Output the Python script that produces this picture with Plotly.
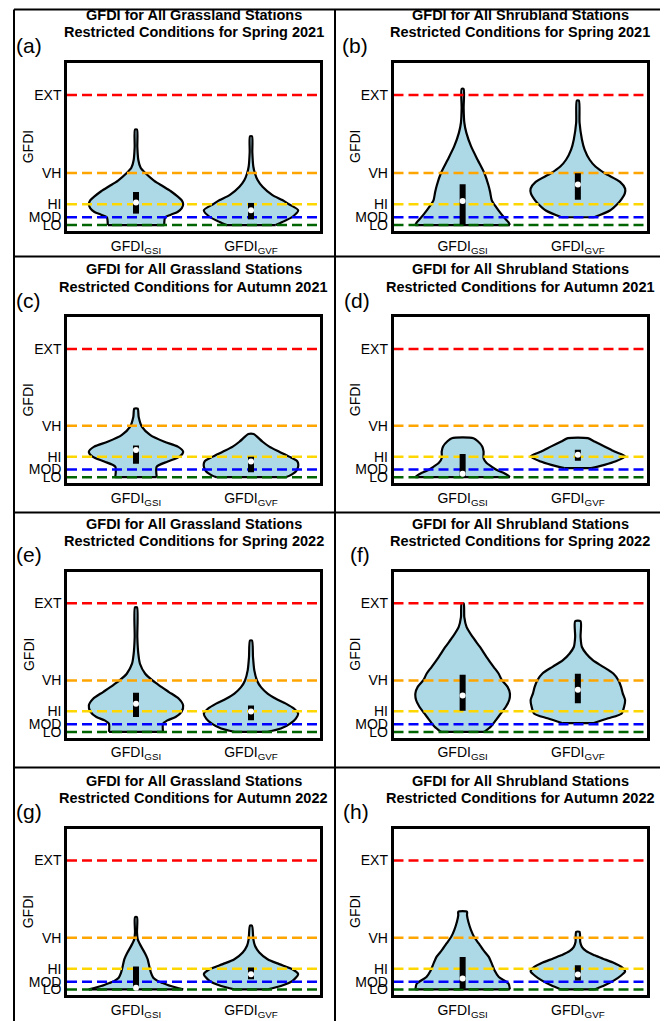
import plotly.graph_objects as go

# The page body has an 8px margin, so the figure is offset by 8px.
OFF = 8
W, H = 660, 1013

# ---------------- data ----------------
categories = ["GFDI<sub>GSI</sub>", "GFDI<sub>GVF</sub>"]
level_names = ["LO", "MOD", "HI", "VH", "EXT"]
level_values = [0, 3, 8, 20, 50]
level_colors = ["#006400", "#0000FF", "#FFD700", "#FFA500", "#FF0000"]

titles_line1 = ["GFDI for All Grassland Stations", "GFDI for All Shrubland Stations"] * 4
titles_line2 = ["Restricted Conditions for Spring 2021", "Restricted Conditions for Spring 2021",
                "Restricted Conditions for Autumn 2021", "Restricted Conditions for Autumn 2021",
                "Restricted Conditions for Spring 2022", "Restricted Conditions for Spring 2022",
                "Restricted Conditions for Autumn 2022", "Restricted Conditions for Autumn 2022"]
panel_labels = ["(a)", "(b)", "(c)", "(d)", "(e)", "(f)", "(g)", "(h)"]

# violin density profiles: GFDI level -> relative density (half-width)
a_gsi_y = [0, 3, 4, 5, 6.5, 8, 9.5, 11, 13, 15, 17, 20, 22, 25, 30, 36.7]
a_gsi_d = [85, 88, 105, 125, 138, 142, 138, 125, 105, 80, 55, 28, 14, 7, 4, 3]
a_gvf_y = [0, 1.2, 3.1, 5.7, 8, 9.6, 11.5, 14.7, 17.3, 19.8, 22.5, 28, 34.1]
a_gvf_d = [75, 95, 125, 143, 115, 95, 65, 35, 20, 12, 7, 4, 3]
b_gsi_y = [0, 1, 2.3, 4.3, 6.9, 9.5, 12.7, 15.3, 19.9, 25, 30.3, 35.5, 39.4, 45, 52.3]
b_gsi_d = [141, 137, 128, 115, 100, 87, 82, 77, 65, 45, 25, 11, 5, 3, 3]
b_gvf_y = [3.0, 5.6, 8.2, 10.1, 12.1, 14.0, 16.6, 19.9, 22.5, 25.1, 29.0, 32.9, 39.4, 47.8]
b_gvf_d = [48, 95, 118, 130, 139, 140, 125, 80, 52, 35, 20, 12, 5, 3]
c_gsi_y = [0, 4.1, 6.1, 8.0, 9.9, 11.9, 13.8, 16.4, 19.6, 23.5, 26.7]
c_gsi_d = [62, 62, 95, 130, 141, 125, 85, 43, 18, 8, 5]
c_gvf_y = [0, 0.5, 2.2, 4.1, 6.1, 8.0, 9.9, 11.9, 13.8, 15.8, 16.8]
c_gvf_d = [105, 115, 135, 142, 140, 115, 85, 55, 35, 18, 8]
d_gsi_y = [0, 0.8, 1.6, 2.9, 4.2, 5.5, 7.4, 10, 12, 14, 15.2]
d_gsi_d = [140, 133, 122, 100, 85, 71, 62, 62, 58, 45, 32]
d_gvf_y = [3.5, 4.8, 6.1, 8.1, 10.0, 12.0, 13.9, 15.2]
d_gvf_d = [40, 80, 112, 142, 110, 80, 50, 30]
e_gsi_y = [0, 3.2, 4.5, 5.8, 7.8, 10.3, 12.9, 15.5, 18.1, 20.0, 22.6, 26.5, 30.4, 36.8, 48.4]
e_gsi_d = [82, 82, 95, 120, 138, 143, 130, 100, 70, 50, 28, 12, 7, 4, 3]
e_gvf_y = [0, 1.3, 3.2, 5.2, 7.1, 9.0, 11.0, 12.9, 14.9, 17.4, 20.0, 23.9, 29.1, 35.5]
e_gvf_d = [50, 90, 118, 135, 142, 130, 105, 75, 50, 30, 18, 10, 6, 3]
f_gsi_y = [0, 2.1, 4.6, 7.2, 9.8, 12.4, 15.0, 17.5, 20.1, 22.7, 25.3, 29.1, 33.0, 36.9, 40.7, 44.6, 50.0]
f_gsi_d = [65, 85, 100, 115, 130, 140, 142, 135, 118, 108, 93, 72, 52, 30, 12, 5, 3]
f_gvf_y = [3.4, 5.3, 7.2, 9.8, 12.4, 15.0, 17.5, 20.1, 22.7, 25.3, 27.8, 30.4, 33.0, 36.9, 43.0]
f_gvf_d = [45, 90, 130, 137, 140, 133, 128, 120, 105, 75, 45, 25, 12, 8, 8]
g_gsi_y = [0, 1.3, 2.5, 3.3, 4.5, 6.5, 9, 11.7, 14, 16.3, 18, 19.5, 22.1, 28.0]
g_gsi_d = [142, 105, 80, 65, 52, 45, 40, 35, 27, 17, 10, 5, 3, 3]
g_gvf_y = [0, 1.3, 3.3, 5.9, 7.8, 9.8, 11.7, 14.3, 16.9, 19.5, 24.7]
g_gvf_d = [50, 90, 125, 142, 125, 85, 50, 25, 12, 7, 3]
h_gsi_y = [0, 2.2, 4.8, 7.4, 10.0, 12.6, 15.2, 17.8, 20.4, 23.0, 26.2, 28.8, 30.1]
h_gsi_d = [141, 137, 108, 95, 87, 78, 62, 48, 34, 25, 17, 13, 13]
h_gvf_y = [0, 1.6, 3.5, 5.5, 7.0, 8.7, 10.4, 11.9, 13.2, 14.8, 16.5, 18.4, 22.3]
h_gvf_d = [50, 80, 108, 130, 141, 130, 105, 75, 50, 25, 12, 7, 5]

# box stats: [q1, median, q3]
a_gsi_box = [4.4, 8.7, 12.7]
a_gvf_box = [2.2, 5.7, 8.5]
b_gsi_box = [0.2, 9.2, 15.7]
b_gvf_box = [9.7, 15.6, 19.9]
c_gsi_box = [5.2, 10.6, 12.3]
c_gvf_box = [1.9, 6.1, 8.0]
d_gsi_box = [0.3, 1.3, 9.0]
d_gvf_box = [6.4, 8.7, 10.7]
e_gsi_box = [5.8, 11.0, 15.2]
e_gvf_box = [4.5, 7.9, 10.3]
f_gsi_box = [8.2, 14.2, 22.2]
f_gvf_box = [11.1, 16.4, 22.6]
g_gsi_box = [0.3, 0.65, 8.9]
g_gvf_box = [3.9, 5.9, 8.5]
h_gsi_box = [0.3, 4.2, 12.6]
h_gvf_box = [3.5, 5.8, 9.4]

panels = [
    [(a_gsi_y, a_gsi_d, a_gsi_box), (a_gvf_y, a_gvf_d, a_gvf_box)],
    [(b_gsi_y, b_gsi_d, b_gsi_box), (b_gvf_y, b_gvf_d, b_gvf_box)],
    [(c_gsi_y, c_gsi_d, c_gsi_box), (c_gvf_y, c_gvf_d, c_gvf_box)],
    [(d_gsi_y, d_gsi_d, d_gsi_box), (d_gvf_y, d_gvf_d, d_gvf_box)],
    [(e_gsi_y, e_gsi_d, e_gsi_box), (e_gvf_y, e_gvf_d, e_gvf_box)],
    [(f_gsi_y, f_gsi_d, f_gsi_box), (f_gvf_y, f_gvf_d, f_gvf_box)],
    [(g_gsi_y, g_gsi_d, g_gsi_box), (g_gvf_y, g_gvf_d, g_gvf_box)],
    [(h_gsi_y, h_gsi_d, h_gsi_box), (h_gvf_y, h_gvf_d, h_gvf_box)],
]

# ---------------- layout geometry (page pixels) ----------------
col_left = [67, 393.5]
col_right = [320, 647]
row_top = [63, 318, 572.7, 830.3]
row_bot = [231.5, 484, 739.3, 997.3]
label_x = [14, 340, 14, 342, 14, 348, 14, 341]
ylab_x = [28.3, 355]
XR = [0.4, 2.6]
YR = [-2.3, 62.3]
HALF = 0.41  # max half-width of a violin in category units

def px_x(v):
    return (v - OFF) / W

def px_y(v):
    return 1 - (v - OFF) / H

fig = go.Figure()
layout = {}
annotations = []
font_family = "Liberation Sans, Arial, sans-serif"

for i, pdata in enumerate(panels):
    r, c = divmod(i, 2)
    n = i + 1
    xa = "x" if n == 1 else f"x{n}"
    ya = "y" if n == 1 else f"y{n}"
    # violins: open spline from bottom-left, over the top, down to bottom-right;
    # the fill closes along the (flat, trimmed) bottom with a straight edge.
    for k, (vy, vd, box) in enumerate(pdata):
        cx = k + 1
        m = max(vd)
        xs_r = [cx + d / m * HALF for d in vd]
        xs_l = [cx - d / m * HALF for d in vd]
        xs = xs_l + xs_r[::-1]
        ys = list(vy) + list(vy)[::-1]
        fig.add_trace(go.Scatter(x=xs, y=ys, mode="lines", fill="toself",
                                 fillcolor="#ADD8E6",
                                 line=dict(color="black", width=2.2, shape="spline", smoothing=0.7),
                                 xaxis=xa, yaxis=ya, showlegend=False, hoverinfo="skip"))
        fig.add_trace(go.Scatter(x=[xs_l[0], xs_r[0]], y=[vy[0], vy[0]], mode="lines",
                                 line=dict(color="black", width=2.2),
                                 xaxis=xa, yaxis=ya, showlegend=False, hoverinfo="skip"))
    # danger level lines
    for lv, lc in zip(level_values, level_colors):
        fig.add_trace(go.Scatter(x=XR, y=[lv, lv], mode="lines",
                                 line=dict(color=lc, width=2.5, dash="10px,5px"),
                                 xaxis=xa, yaxis=ya, showlegend=False, hoverinfo="skip"))
    # box + median
    for k, (vy, vd, box) in enumerate(pdata):
        cx = k + 1
        fig.add_trace(go.Scatter(x=[cx, cx], y=[box[0], box[2]], mode="lines",
                                 line=dict(color="black", width=6),
                                 xaxis=xa, yaxis=ya, showlegend=False, hoverinfo="skip"))
        fig.add_trace(go.Scatter(x=[cx], y=[box[1]], mode="markers",
                                 marker=dict(color="white", size=6, line=dict(width=0)),
                                 xaxis=xa, yaxis=ya, showlegend=False, hoverinfo="skip"))

    axis_common = dict(showgrid=False, zeroline=False, showline=True, mirror=True,
                       linecolor="black", linewidth=2.5, ticks="",
                       tickfont=dict(family=font_family, size=14, color="black"))
    layout["xaxis" if n == 1 else f"xaxis{n}"] = dict(
        axis_common, domain=[px_x(col_left[c]), px_x(col_right[c])], range=XR,
        tickmode="array", tickvals=[1, 2], ticktext=categories,
        anchor=ya, fixedrange=True)
    layout["yaxis" if n == 1 else f"yaxis{n}"] = dict(
        axis_common, domain=[px_y(row_bot[r]), px_y(row_top[r])], range=YR,
        tickmode="array", tickvals=level_values, ticktext=level_names,
        anchor=xa, fixedrange=True)

    cxm = (col_left[c] + col_right[c]) / 2
    annotations.append(dict(text=f"<b>{titles_line1[i]}</b>", x=px_x(cxm), y=px_y(row_top[r] - 48),
                            xref="paper", yref="paper", xanchor="center", yanchor="middle",
                            showarrow=False, font=dict(family=font_family, size=14.5, color="black")))
    annotations.append(dict(text=f"<b>{titles_line2[i]}</b>", x=px_x(cxm), y=px_y(row_top[r] - 30.5),
                            xref="paper", yref="paper", xanchor="center", yanchor="middle",
                            showarrow=False, font=dict(family=font_family, size=14.5, color="black")))
    annotations.append(dict(text=panel_labels[i], x=px_x(label_x[i]), y=px_y(row_top[r] - 17),
                            xref="paper", yref="paper", xanchor="left", yanchor="middle",
                            showarrow=False, font=dict(family=font_family, size=21, color="black")))
    annotations.append(dict(text="GFDI", x=px_x(ylab_x[c]), y=px_y((row_top[r] + row_bot[r]) / 2),
                            xref="paper", yref="paper", xanchor="center", yanchor="middle",
                            textangle=-90, showarrow=False,
                            font=dict(family=font_family, size=14, color="black")))

# cell frames
frame_x = [14, 335, 666]
frame_y = [9.5, 257, 513.5, 769, 1030]
shapes = []
for fx in frame_x:
    shapes.append(dict(type="line", xref="paper", yref="paper", x0=px_x(fx), x1=px_x(fx),
                       y0=px_y(frame_y[0]), y1=px_y(frame_y[-1]), line=dict(color="black", width=2)))
for fy in frame_y:
    shapes.append(dict(type="line", xref="paper", yref="paper", x0=px_x(frame_x[0]), x1=px_x(frame_x[-1]),
                       y0=px_y(fy), y1=px_y(fy), line=dict(color="black", width=2)))

fig.update_layout(width=W, height=H, margin=dict(l=0, r=0, t=0, b=0),
                  paper_bgcolor="white", plot_bgcolor="white",
                  annotations=annotations, shapes=shapes, showlegend=False, **layout)

fig.write_html("out.html")
